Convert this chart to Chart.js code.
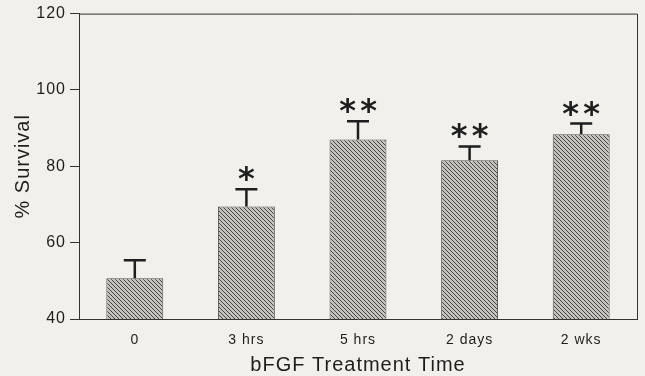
<!DOCTYPE html>
<html>
<head>
<meta charset="utf-8">
<script src="https://cdn.jsdelivr.net/npm/chart.js@4"></script>
<style>
  html, body { margin: 0; padding: 0; background: #f2f0ea; }
  #wrap { width: 645px; height: 376px; }
</style>
</head>
<body>
<div id="wrap"><canvas id="survivalChart" width="645" height="376"></canvas></div>
<script>
const categories = ['0', '3 hrs', '5 hrs', '2 days', '2 wks'];
const survival = [50.7, 69.5, 87, 81.6, 88.4];
const errors = [4.7, 4.5, 4.8, 3.6, 2.8];
const marks = ['', '*', '**', '**', '**'];
const yTicks = [40, 60, 80, 100, 120];

const FONT = '"Liberation Sans", Arial, sans-serif';

// hatched fill like the printed figure
function hatch() {
  const c = document.createElement('canvas');
  c.width = 4; c.height = 4;
  const g = c.getContext('2d');
  g.fillStyle = '#c4c2bd';
  g.fillRect(0, 0, 4, 4);
  g.strokeStyle = '#464646';
  g.lineWidth = 1;
  g.beginPath();
  g.moveTo(-1, -1); g.lineTo(5, 5);
  g.moveTo(-1, 3); g.lineTo(1, 5);
  g.moveTo(3, -1); g.lineTo(5, 1);
  g.stroke();
  return g.createPattern(c, 'repeat');
}

const extras = {
  id: 'extras',
  beforeDraw(chart) {
    chart.ctx.letterSpacing = '1px';
  },
  afterDatasetsDraw(chart) {
    const ctx = chart.ctx;
    const y = chart.scales.y;
    const area = chart.chartArea;
    const meta = chart.getDatasetMeta(0);
    ctx.save();
    // frame top and right
    ctx.strokeStyle = '#333';
    ctx.lineWidth = 1;
    ctx.beginPath();
    ctx.moveTo(area.left, area.top + 0.5);
    ctx.lineTo(area.right + 0.5, area.top + 0.5);
    ctx.lineTo(area.right + 0.5, area.bottom);
    ctx.stroke();
    // error bars (upper only) and significance marks
    ctx.strokeStyle = '#1e1e1e';
    ctx.lineWidth = 2.5;
    ctx.fillStyle = '#1e1e1e';
    ctx.letterSpacing = '0px';
    ctx.font = 'bold 32px "DejaVu Sans", sans-serif';
    ctx.textAlign = 'center';
    ctx.textBaseline = 'alphabetic';
    meta.data.forEach((bar, i) => {
      const top = y.getPixelForValue(survival[i] + errors[i]);
      const base = y.getPixelForValue(survival[i]);
      ctx.beginPath();
      ctx.moveTo(bar.x, base);
      ctx.lineTo(bar.x, top);
      ctx.moveTo(bar.x - 11, top);
      ctx.lineTo(bar.x + 11, top);
      ctx.stroke();
      const stars = marks[i].split('');
      stars.forEach((s, k) => {
        const dx = (k - (stars.length - 1) / 2) * 21;
        ctx.fillText(s, bar.x + dx, top);
      });
    });
    ctx.restore();
  }
};

const ctx = document.getElementById('survivalChart').getContext('2d');
new Chart(ctx, {
  type: 'bar',
  data: {
    labels: categories,
    datasets: [{
      data: survival,
      backgroundColor: hatch(),
      borderColor: '#555',
      borderWidth: 1,
      barPercentage: 0.51,
      categoryPercentage: 1
    }]
  },
  options: {
    responsive: false,
    animation: false,
    layout: { padding: { top: 13, right: 8, left: 0, bottom: 0 } },
    plugins: { legend: { display: false }, tooltip: { enabled: false } },
    scales: {
      x: {
        grid: { display: false },
        border: { display: true, color: '#333', width: 1 },
        ticks: {
          color: '#1e1e1e',
          padding: 5,
          font: { family: FONT, size: 14 }
        },
        title: {
          display: true,
          text: 'bFGF Treatment Time',
          color: '#1e1e1e',
          padding: { top: 2, bottom: -1 },
          font: { family: FONT, size: 20 }
        },
        afterFit(scale) { scale.height = 57; }
      },
      y: {
        min: 40,
        max: 120,
        afterBuildTicks(scale) { scale.ticks = yTicks.map(v => ({ value: v })); },
        grid: { drawOnChartArea: false, tickLength: 9, color: '#333' },
        border: { display: true, color: '#333', width: 1 },
        ticks: {
          color: '#1e1e1e',
          padding: 4,
          font: { family: FONT, size: 16 }
        },
        title: {
          display: true,
          text: '% Survival',
          color: '#1e1e1e',
          padding: { top: 11 },
          font: { family: FONT, size: 20 }
        },
        afterFit(scale) { scale.width = 79; }
      }
    }
  },
  plugins: [extras]
});
</script>
</body>
</html>
